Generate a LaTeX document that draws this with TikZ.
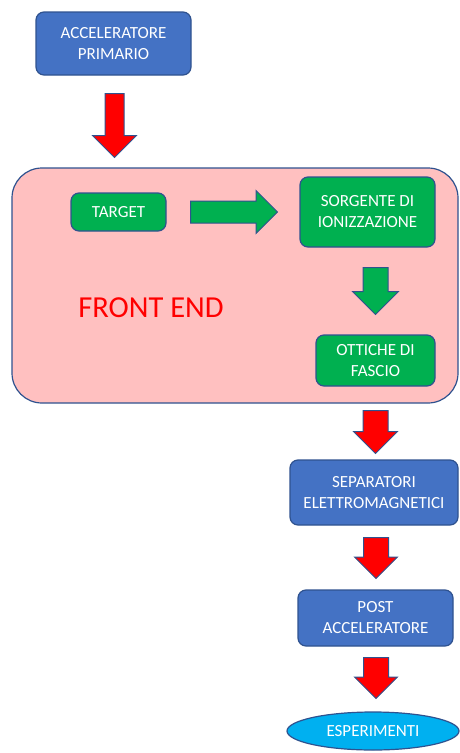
\documentclass[tikz,border=0pt]{standalone}
\usepackage{fontspec}
\setmainfont{Carlito}
\usetikzlibrary{shapes.arrows,shapes.geometric}
\definecolor{boxblue}{RGB}{68,114,196}
\definecolor{edgeblue}{RGB}{47,82,143}
\definecolor{boxgreen}{RGB}{0,176,80}
\definecolor{fepink}{RGB}{255,192,192}
\definecolor{expcyan}{RGB}{0,176,240}
\tikzset{
  blockbox/.style={draw=edgeblue, line width=1.2pt, rounded corners=8pt, text=white,
    align=center, inner sep=0pt, font=\fontsize{17}{21}\selectfont},
  bluebox/.style={blockbox, fill=boxblue},
  greenbox/.style={blockbox, fill=boxgreen},
  blockarrow/.style={single arrow, draw=edgeblue, line width=1pt, inner xsep=0pt,
    single arrow tip angle=90, anchor=tail},
  redarrow/.style={blockarrow, fill=red},
  greenarrow/.style={blockarrow, fill=boxgreen}
}

\begin{document}
\begin{tikzpicture}[x=1pt, y=-1pt]
            % Frame to fix the size
            \useasboundingbox (0,0) rectangle (459,753);
            % Primary accelerator
            \node[bluebox, minimum width=155, minimum height=63] (prim) at (113.5,43.5) {ACCELERATORE\\PRIMARIO};
            \node[redarrow, rotate=-90, minimum height=64, inner ysep=9, single arrow head extend=12.5] (a1) at (114.5,93) {};
            % Front end
            \node[draw=edgeblue, line width=1.2pt, fill=fepink, rounded corners=30pt, minimum width=446, minimum height=235] (fe) at (235,285.5) {};
            \node[text=red, font=\fontsize{30.5}{36}\selectfont] (felabel) at (151,308) {FRONT END};
            \node[greenbox, minimum width=95, minimum height=38] (target) at (118.5,212) {TARGET};
            \node[greenarrow, minimum height=87, inner ysep=10.5, single arrow head extend=10.5] (a2) at (190,212) {};
            \node[greenbox, minimum width=135, minimum height=70] (source) at (367.5,212) {SORGENTE DI\\IONIZZAZIONE};
            \node[greenarrow, rotate=-90, minimum height=47, inner ysep=12, single arrow head extend=10.5] (a3) at (375.5,267) {};
            \node[greenbox, minimum width=119, minimum height=51] (optics) at (375.5,360.5) {OTTICHE DI\\FASCIO};
            % After the front end
            \node[redarrow, rotate=-90, minimum height=43, inner ysep=12, single arrow head extend=9.5] (a4) at (375.5,410) {};
            \node[bluebox, minimum width=168, minimum height=65] (sep) at (374,492.5) {SEPARATORI\\ELETTROMAGNETICI};
            \node[redarrow, rotate=-90, minimum height=41, inner ysep=12, single arrow head extend=9] (a5) at (376,537) {};
            \node[bluebox, minimum width=155, minimum height=56] (post) at (375.5,618) {POST\\ACCELERATORE};
            \node[redarrow, rotate=-90, minimum height=41, inner ysep=12, single arrow head extend=9] (a6) at (376,657) {};
            \node[ellipse, draw=edgeblue, line width=1.2pt, fill=expcyan, text=white, inner sep=0pt,
              minimum width=172, minimum height=38, font=\fontsize{17}{21}\selectfont] (exp) at (373,731) {ESPERIMENTI};
        \end{tikzpicture}
\end{document}
